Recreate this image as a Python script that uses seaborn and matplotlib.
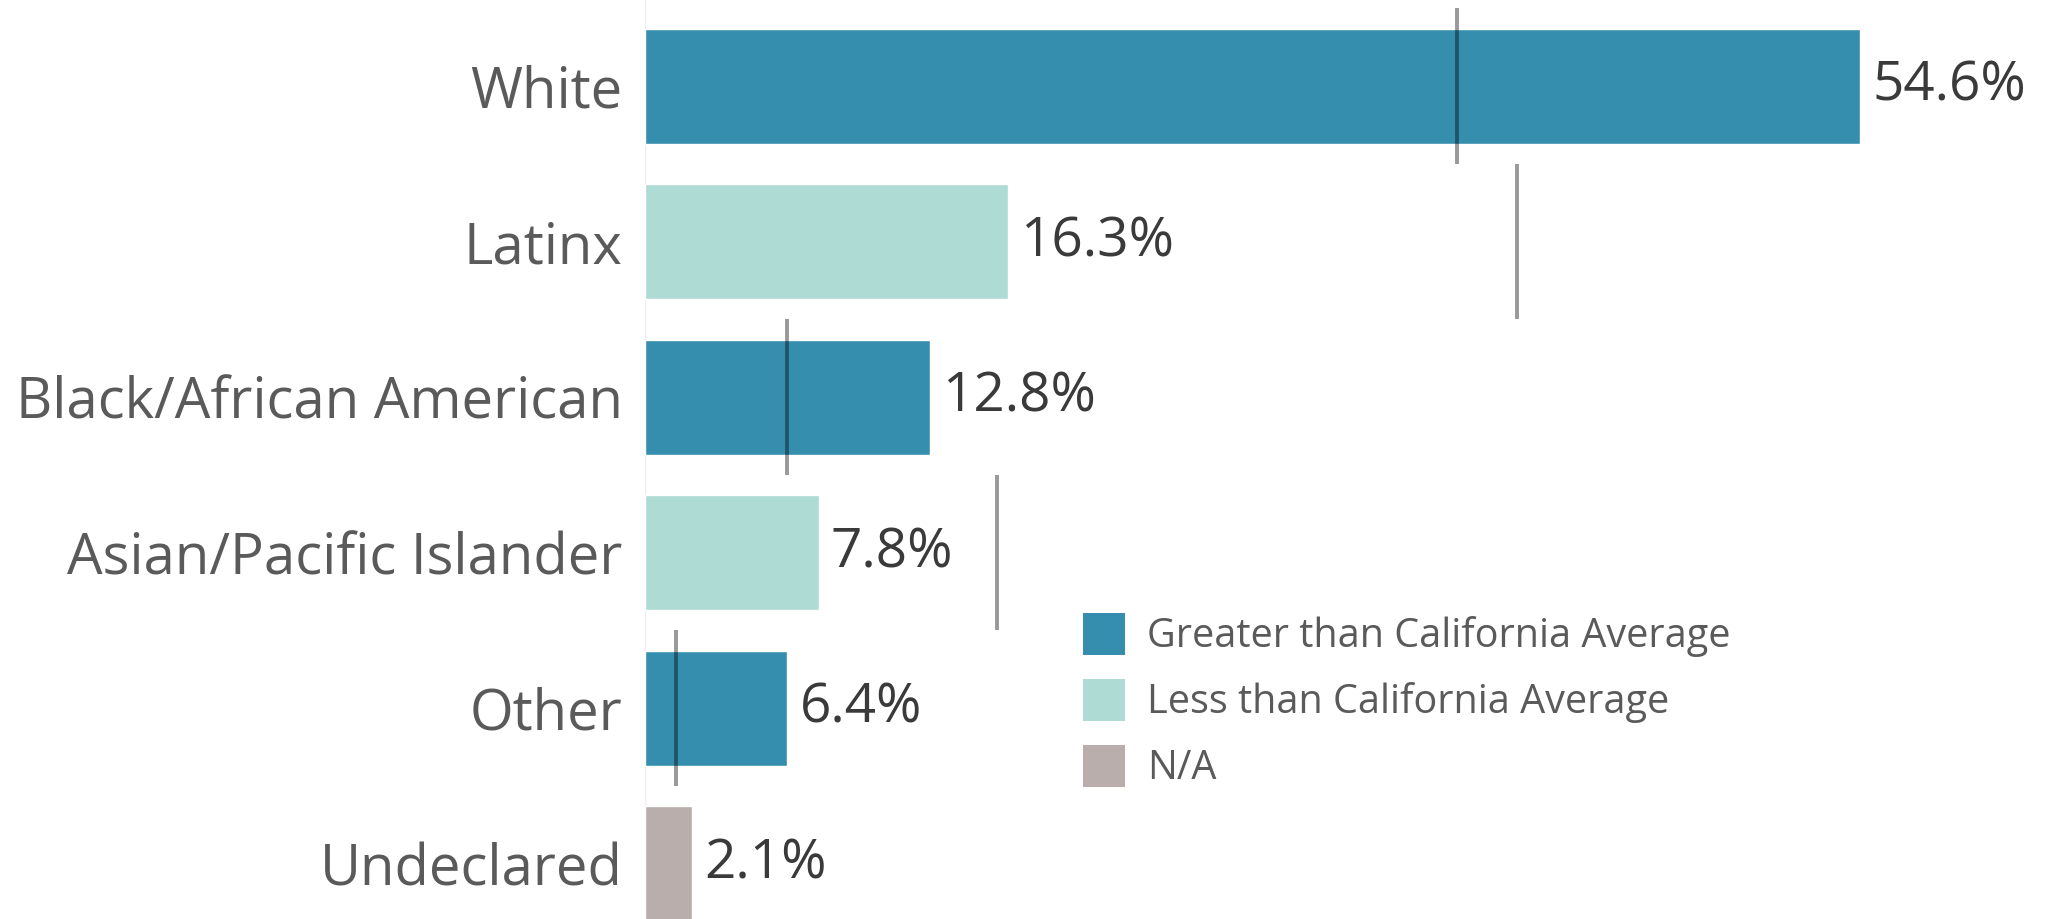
import numpy as np
import pandas as pd
import seaborn as sns
import matplotlib.pyplot as plt
from matplotlib.patches import Patch

categorias = ['White', 'Latinx', 'Black/African American', 'Asian/Pacific Islander', 'Other', 'Undeclared']
valores = [54.6, 16.3, 12.8, 7.8, 6.4, 2.1]
media_ca = [36.5, 39.2, 6.4, 15.8, 1.4, np.nan]
grupo = ['Greater than California Average', 'Less than California Average',
         'Greater than California Average', 'Less than California Average',
         'Greater than California Average', 'N/A']
legenda = ['Greater than California Average', 'Less than California Average', 'N/A']
cores = ['#368EAE', '#AEDCD4', '#B9AEAB']

sns.set_style('white')
plt.rcParams['font.family'] = ['Open Sans', 'DejaVu Sans']

df = pd.DataFrame({'cat': categorias, 'val': valores, 'grupo': grupo})

fig = plt.figure(figsize=(20.46, 9.19), dpi=100)
ax = fig.add_axes([645 / 2046, 0, 1401 / 2046, 1])

sns.barplot(data=df, x='val', y='cat', hue='grupo', hue_order=legenda,
            palette=cores, dodge=False, width=0.74, legend=False, ax=ax,
            saturation=1)

ax.set_xlim(0, 1401 / 22.25)
ax.set_ylim(5.356, -0.554)

# linhas da media da California
pos = ax.get_yticks()
for y, m in zip(pos, media_ca):
    if not np.isnan(m):
        ax.vlines(m, y - 0.5, y + 0.5, color='black', alpha=0.4, lw=2.8, zorder=5)

# rotulos de valor
for y, v in zip(pos, valores):
    ax.text(v + 0.55, y, f'{v}%', va='center', ha='left', fontsize=39.5, color='#3a3a3a')

ax.axvline(0, color='#eeeeee', lw=1, zorder=0)
ax.set_xlabel('')
ax.set_ylabel('')
ax.set_xticks([])
ax.tick_params(axis='y', length=0, pad=16, labelsize=40.5, labelcolor='#5a5a5a')
for s in ax.spines.values():
    s.set_visible(False)

handles = [Patch(facecolor=c, edgecolor='none') for c in cores]
fig.legend(handles, legenda, loc='upper left', bbox_to_anchor=(1083 / 2046, 1 - 613 / 919),
           frameon=False, fontsize=28.5, handlelength=1.05, handleheight=1.25,
           labelspacing=0.55, handletextpad=0.57, borderpad=0, borderaxespad=0,
           labelcolor='#5a5a5a')

fig.savefig('out.png', dpi=100)
